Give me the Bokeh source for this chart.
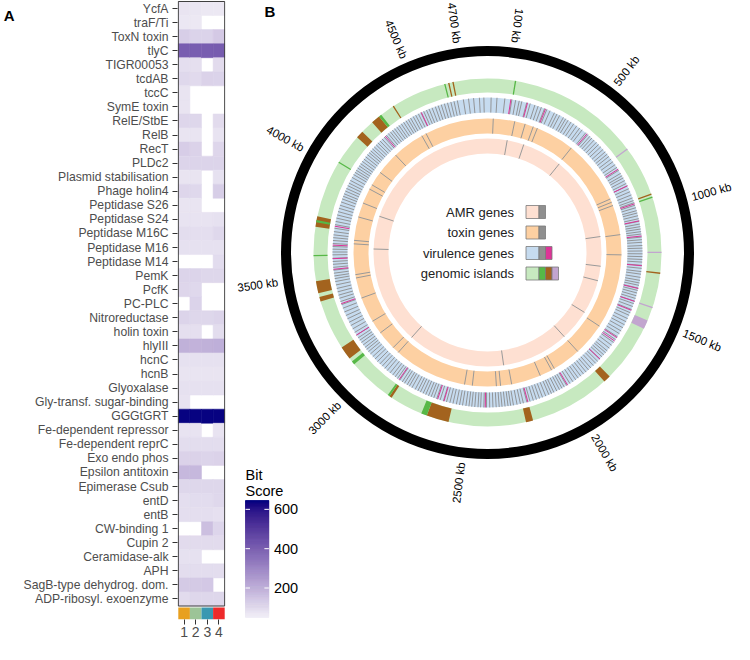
import numpy as np
from bokeh.plotting import figure
from bokeh.models import Range1d, FixedTicker, LinearColorMapper, LinearAxis, ColumnDataSource
from bokeh.layouts import row
from bokeh.embed import file_html
from bokeh.resources import INLINE
from bokeh.core.properties import value

FONT = "Liberation Sans"
N = None

# ---------------- Panel A data ----------------
genes = ["YcfA", "traF/Ti", "ToxN toxin", "tlyC", "TIGR00053", "tcdAB", "tccC", "SymE toxin",
         "RelE/StbE", "RelB", "RecT", "PLDc2", "Plasmid stabilisation", "Phage holin4",
         "Peptidase S26", "Peptidase S24", "Peptidase M16C", "Peptidase M16", "Peptidase M14",
         "PemK", "PcfK", "PC-PLC", "Nitroreductase", "holin toxin", "hlyIII", "hcnC", "hcnB",
         "Glyoxalase", "Gly-transf. sugar-binding", "GGGtGRT", "Fe-dependent repressor",
         "Fe-dependent reprC", "Exo endo phos", "Epsilon antitoxin", "Epimerase Csub", "entD",
         "entB", "CW-binding 1", "Cupin 2", "Ceramidase-alk", "APH", "SagB-type dehydrog. dom.",
         "ADP-ribosyl. exoenzyme"]
samples = [1, 2, 3, 4]
sample_colors = ["#E8A020", "#9CC497", "#3A98B1", "#EE2A2B"]
bits_1 = [80, 72, 130, 410, 92, 108, 78, 78, 112, 80, 132, 116, 80, 112, 80, 82, 96, 86, N, 116,
          112, N, 116, 90, 200, 86, 80, 86, 82, 640, 82, 96, 120, 182, 110, 92, 92, N, 100, 86,
          96, 140, 100]
bits_2 = [75, 70, 118, 410, 90, 102, N, N, 110, 80, 122, 116, 80, 108, 80, 82, 92, 86, N, 116,
          106, 118, 110, 90, 196, 86, 80, 86, N, 640, 82, 96, 120, 182, 110, 98, 92, N, 100, 86,
          96, 140, 110]
bits_3 = [70, N, 118, 410, N, 122, N, N, N, N, N, 116, N, N, N, 82, 92, 86, N, 110,
          N, N, 110, N, 200, 86, 80, 86, N, 640, N, 96, 116, N, 110, 98, 92, 165, 100, N,
          96, 145, 110]
bits_4 = [70, N, 142, 412, 100, 118, N, N, 100, 82, 112, 116, 85, 130, N, 86, 106, 86, 98, 110,
          N, N, 116, 96, 205, 86, 80, 86, N, 640, 82, 96, 120, N, 110, 106, 88, 115, 100, N,
          96, N, 110]
bit_low, bit_high = 50, 645
colorbar_ticks = [200, 400, 600]

# ---------------- Panel B data ----------------
genome_kb = 4810
tick_kb = [100, 500, 1000, 1500, 2000, 2500, 3000, 3500, 4000, 4500, 4700]
amr_kb = [133, 248, 521, 1095, 1295, 1394, 1626, 1839, 2296, 2963, 3631, 3855]
toxin_kb = [33, 157, 218, 267, 292, 517, 888, 908, 928, 1100, 1216, 1648, 1839, 2005, 2023, 2095,
            2266, 2330, 2354, 2492, 2537, 2963, 3003, 3115, 3195, 3342, 3461, 3480, 3657, 3677,
            3813, 3897, 3985, 4013, 4098, 4231, 4418, 4445]
vir_grey_kb = [18, 47, 86, 121, 140, 158, 171, 196, 214, 238, 255, 272, 289, 301, 318, 342, 356,
               371, 392, 405, 419, 436, 452, 470, 488, 503, 526, 540, 553, 566, 581, 597, 612,
               628, 645, 661, 676, 690, 707, 723, 741, 757, 774, 792, 806, 818, 833, 849, 862,
               878, 894, 911, 927, 941, 952, 965, 978, 993, 1005, 1019, 1034, 1047, 1061, 1074,
               1086, 1099, 1111, 1126, 1139, 1152, 1168, 1181, 1195, 1209, 1223, 1237, 1250,
               1266, 1281, 1297, 1310, 1326, 1341, 1354, 1366, 1380, 1392, 1405, 1419, 1433,
               1447, 1460, 1475, 1491, 1508, 1522, 1540, 1557, 1574, 1591, 1609, 1625, 1643,
               1660, 1677, 1694, 1712, 1729, 1741, 1755, 1768, 1784, 1799, 1813, 1829, 1846,
               1861, 1877, 1893, 1910, 1926, 1941, 1958, 1975, 1994, 2008, 2021, 2035, 2050,
               2066, 2079, 2093, 2110, 2127, 2143, 2159, 2175, 2192, 2208, 2226, 2241, 2258,
               2276, 2290, 2303, 2318, 2333, 2347, 2362, 2378, 2394, 2410, 2423, 2439, 2452,
               2468, 2483, 2497, 2512, 2529, 2544, 2560, 2577, 2593, 2610, 2626, 2643, 2661,
               2676, 2690, 2704, 2719, 2733, 2748, 2762, 2777, 2795, 2810, 2823, 2838, 2851,
               2866, 2880, 2894, 2909, 2926, 2944, 2960, 2977, 2993, 3010, 3027, 3043, 3061,
               3076, 3090, 3103, 3118, 3133, 3147, 3161, 3177, 3193, 3213, 3232, 3250, 3269,
               3287, 3306, 3326, 3345, 3361, 3378, 3394, 3411, 3428, 3446, 3463, 3478, 3491,
               3505, 3520, 3534, 3549, 3563, 3579, 3596, 3610, 3624, 3637, 3652, 3667, 3681,
               3695, 3711, 3728, 3746, 3762, 3779, 3795, 3812, 3829, 3845, 3862, 3878, 3892,
               3905, 3920, 3934, 3949, 3963, 3978, 3995, 4011, 4024, 4036, 4049, 4062, 4075,
               4089, 4103, 4117, 4131, 4144, 4156, 4169, 4182, 4196, 4209, 4223, 4237, 4251,
               4265, 4278, 4291, 4304, 4317, 4331, 4344, 4358, 4372, 4386, 4399, 4412, 4427,
               4441, 4456, 4470, 4485, 4500, 4514, 4530, 4547, 4562, 4578, 4594, 4610, 4627,
               4643, 4660, 4690, 4716, 4741, 4770, 4792]
vir_magenta_kb = [116, 200, 294, 534, 768, 862, 958, 1045, 1121, 1268, 1382, 1448, 1495, 1648,
                  1668, 1783, 1989, 2203, 2416, 2623, 2656, 2870, 3177, 3350, 3524, 3577, 3644,
                  3738, 4258, 4472]
gi_start = [121, 712, 938, 952, 1199, 1291, 1446, 1510, 1809, 2202, 2578, 2678, 2852, 2863,
            3073, 3106, 3389, 3427, 3591, 3721, 3741, 4022, 4161, 4255, 4295, 4369, 4617, 4635,
            4654]
gi_end = [127, 718, 944, 958, 1205, 1297, 1452, 1550, 1841, 2234, 2678, 2704, 2863, 2872,
          3089, 3166, 3409, 3480, 3597, 3768, 3751, 4028, 4195, 4295, 4307, 4375, 4623, 4641,
          4660]
gi_type = ["green", "purple", "brown", "green", "purple", "brown", "purple", "purple", "brown",
           "brown", "brown", "green", "brown", "green", "green", "brown", "brown", "brown",
           "green", "brown", "green", "green", "brown", "brown", "green", "brown", "green",
           "brown", "brown"]
legend_names = ["AMR genes", "toxin genes", "virulence genes", "genomic islands"]

# colours
c_amr, c_tox, c_vir, c_gi = "#FEE0D2", "#FDD0A2", "#C6DBEF", "#C7E9C0"
c_grey, c_mag = "#8C8C8C", "#DD3497"
gi_colors = {"green": "#57B847", "brown": "#A3631E", "purple": "#C2A5CF"}


# ---------------- colour palette (Lab interpolation) ----------------
def _hex2lab(h):
    rgb = [int(h[i:i + 2], 16) / 255 for i in (1, 3, 5)]
    lin = [c / 12.92 if c <= 0.04045 else ((c + 0.055) / 1.055) ** 2.4 for c in rgb]
    R, G, B = lin
    X = (0.4124 * R + 0.3576 * G + 0.1805 * B) / 0.95047
    Y = (0.2126 * R + 0.7152 * G + 0.0722 * B)
    Z = (0.0193 * R + 0.1192 * G + 0.9505 * B) / 1.08883
    f = lambda t: t ** (1 / 3) if t > 0.008856 else 7.787 * t + 16 / 116
    fx, fy, fz = f(X), f(Y), f(Z)
    return 116 * fy - 16, 500 * (fx - fy), 200 * (fy - fz)


def _lab2hex(L, a, b):
    fy = (L + 16) / 116
    fx = fy + a / 500
    fz = fy - b / 200
    inv = lambda t: t ** 3 if t ** 3 > 0.008856 else (t - 16 / 116) / 7.787
    X, Y, Z = inv(fx) * 0.95047, inv(fy), inv(fz) * 1.08883
    R = 3.2406 * X - 1.5372 * Y - 0.4986 * Z
    G = -0.9689 * X + 1.8758 * Y + 0.0415 * Z
    B = 0.0557 * X - 0.2040 * Y + 1.0570 * Z
    out = []
    for c in (R, G, B):
        c = 12.92 * c if c <= 0.0031308 else 1.055 * c ** (1 / 2.4) - 0.055
        out.append(int(round(min(max(c, 0), 1) * 255)))
    return "#%02x%02x%02x" % tuple(out)


lo, hi = _hex2lab("#F2F0F7"), _hex2lab("#000080")
palette = [_lab2hex(*[lo[k] + (hi[k] - lo[k]) * i / 255 for k in range(3)]) for i in range(256)]
mapper = LinearColorMapper(palette=palette, low=bit_low, high=bit_high)

# ---------------- Panel A: heatmap ----------------
xs, ys, vs = [], [], []
for si, col in zip(samples, [bits_1, bits_2, bits_3, bits_4]):
    for gi, v in enumerate(col):
        if v is not None:
            xs.append(si)
            ys.append(gi)
            vs.append(v)
src = ColumnDataSource(dict(x=xs, y=ys, bits=vs))

nrow = len(genes)
p1 = figure(width=232, height=644, x_range=Range1d(0.431, 4.569),
            y_range=Range1d(nrow - 0.5 + 0.96, -0.57),
            output_backend="svg", toolbar_location=None,
            min_border_left=165, min_border_right=7, min_border_top=0, min_border_bottom=25)
p1.outline_line_color = None
p1.grid.visible = False
p1.rect(x="x", y="y", width=1, height=1, source=src,
        fill_color={"field": "bits", "transform": mapper},
        line_color={"field": "bits", "transform": mapper}, line_width=0.5)
p1.quad(left=[0.5], right=[4.5], top=[-0.5], bottom=[nrow - 0.5],
        fill_color=None, line_color="#3a3a3a", line_width=1)
p1.quad(left=[s - 0.5 for s in samples], right=[s + 0.5 for s in samples],
        top=[nrow - 0.5 + 0.11] * 4, bottom=[nrow - 0.5 + 0.96] * 4,
        fill_color=sample_colors, line_color=None)

p1.yaxis.ticker = FixedTicker(ticks=list(range(nrow)))
p1.yaxis.major_label_overrides = {i: g for i, g in enumerate(genes)}
p1.xaxis.ticker = FixedTicker(ticks=samples)
for ax in (p1.xaxis, p1.yaxis):
    ax.axis_line_color = None
    ax.major_tick_out = 5
    ax.major_tick_in = 0
    ax.minor_tick_line_color = None
    ax.major_tick_line_color = "#333333"
    ax.major_label_text_color = "#4d4d4d"
    ax.major_label_text_font = FONT
p1.yaxis.major_label_text_font_size = "12.2px"
p1.yaxis.major_label_standoff = 4
p1.xaxis.major_label_text_font_size = "14px"
p1.xaxis.major_label_standoff = 2

# panel letter "A" as an outer left axis with a single tick
panel_axis = LinearAxis(ticker=FixedTicker(ticks=[-0.45]), major_label_overrides={-0.45: "A"},
                        axis_line_color=None, major_tick_line_color=None,
                        minor_tick_line_color=None, major_label_standoff=0,
                        major_label_text_font=FONT, major_label_text_font_style="bold",
                        major_label_text_font_size="15px", major_label_text_color="black")
p1.add_layout(panel_axis, "left")

# ---------------- Panel B: circular genome ----------------
# frame is 502 x 619 px (bottom border aligned with panel A); 1 data unit = 1 px
p2 = figure(width=502, height=644, x_range=Range1d(-255, 247), y_range=Range1d(-367, 252),
            output_backend="svg", toolbar_location=None,
            x_axis_location=None, y_axis_location=None,
            min_border_left=0, min_border_right=0, min_border_top=0, min_border_bottom=25)
p2.outline_line_color = None
p2.grid.visible = False

R_IDEO = (196.5, 206.5)
R_GI = (160, 174)
R_VIR = (140, 155)
R_TOX = (119, 134)
R_AMR = (99, 114)

p2.annulus(x=0, y=0, inner_radius=R_IDEO[0], outer_radius=R_IDEO[1], fill_color="black", line_color=None)
for (ri, ro), c in [(R_GI, c_gi), (R_VIR, c_vir), (R_TOX, c_tox), (R_AMR, c_amr)]:
    p2.annulus(x=0, y=0, inner_radius=ri, outer_radius=ro, fill_color=c, line_color=None)


def theta(kb):
    return np.asarray(kb, dtype=float) / genome_kb * 2 * np.pi


def radial_lines(kb, radii, color, width=1.0):
    t = theta(kb)
    r0, r1 = radii
    p2.segment(x0=r0 * np.sin(t), y0=r0 * np.cos(t), x1=r1 * np.sin(t), y1=r1 * np.cos(t),
               line_color=color, line_width=width)


radial_lines(amr_kb, R_AMR, "#9a9a9a")
radial_lines(toxin_kb, R_TOX, "#999999")
radial_lines(vir_grey_kb, R_VIR, c_grey, 0.9)
radial_lines(vir_magenta_kb, R_VIR, c_mag, 1.0)

p2.annular_wedge(x=0, y=0, inner_radius=R_GI[0], outer_radius=R_GI[1],
                 start_angle=np.pi / 2 - theta(gi_end), end_angle=np.pi / 2 - theta(gi_start),
                 fill_color=[gi_colors[t] for t in gi_type], line_color=None)

# tick labels
t = theta(tick_kb)
deg = np.degrees(t)
outward = (deg > 15) & (deg < 180)
r_lab = 211.5
for mask, align, extra in [(outward, "left", 0.0), (~outward, "right", np.pi)]:
    tt = t[mask]
    p2.text(x=r_lab * np.sin(tt), y=r_lab * np.cos(tt),
            text=["%d kb" % k for k, m in zip(tick_kb, mask) if m],
            angle=np.pi / 2 - tt + extra, text_align=align, text_baseline="middle",
            text_font=value(FONT), text_font_size="11.5px", text_color="black")

# central legend
leg_y = [40.5, 20, -0.5, -21]
p2.text(x=[26.5] * 4, y=leg_y, text=legend_names, text_align="right", text_baseline="middle",
        text_font=value(FONT), text_font_size="13px", text_color="#222222")
sw_cols = [[c_amr, "#8f8f8f"], [c_tox, "#8f8f8f"], [c_vir, "#8f8f8f", c_mag],
           [c_gi, gi_colors["green"], gi_colors["brown"], gi_colors["purple"]]]
ql, qr, qt, qb, qc = [], [], [], [], []
for yy, cols in zip(leg_y, sw_cols):
    x0 = 38.5
    for k, c in enumerate(cols):
        w = 13 if k == 0 else 6.5
        ql.append(x0); qr.append(x0 + w); qt.append(yy + 6.5); qb.append(yy - 6.5); qc.append(c)
        x0 += w
p2.quad(left=ql, right=qr, top=qt, bottom=qb, fill_color=qc, line_color="#7a7a7a", line_width=0.8)

# panel letter
p2.text(x=[-223], y=[241], text=["B"], text_font=value(FONT), text_font_style="bold",
        text_font_size="15px", text_color="black", text_baseline="alphabetic")

# colour bar legend (drawn from the heatmap's palette / mapper range)
cb_left, cb_right, cb_bottom, cb_top = -242.0, -218.6, -365.0, -248.0
n_pal = len(palette)
cb_h = (cb_top - cb_bottom) / n_pal
p2.quad(left=[cb_left] * n_pal, right=[cb_right] * n_pal,
        bottom=[cb_bottom + i * cb_h for i in range(n_pal)],
        top=[cb_bottom + (i + 1) * cb_h for i in range(n_pal)],
        fill_color=palette, line_color=palette, line_width=0.6)
tick_y = [cb_bottom + (v - bit_low) / (bit_high - bit_low) * (cb_top - cb_bottom) for v in colorbar_ticks]
p2.segment(x0=[cb_right - 4.5] * 3, x1=[cb_right] * 3, y0=tick_y, y1=tick_y,
           line_color="white", line_width=1)
p2.segment(x0=[cb_left] * 3, x1=[cb_left + 4.5] * 3, y0=tick_y, y1=tick_y,
           line_color="white", line_width=1)
p2.text(x=[cb_right + 5] * 3, y=tick_y, text=[str(v) for v in colorbar_ticks],
        text_align="left", text_baseline="middle", text_font=value(FONT),
        text_font_size="14.5px", text_color="black")
p2.text(x=[cb_left, cb_left], y=[cb_top + 26, cb_top + 10], text=["Bit", "Score"],
        text_font=value(FONT), text_font_size="14.5px", text_color="black",
        text_baseline="alphabetic")

layout = row(p1, p2)
open("out.html", "w").write(file_html(layout, INLINE))
